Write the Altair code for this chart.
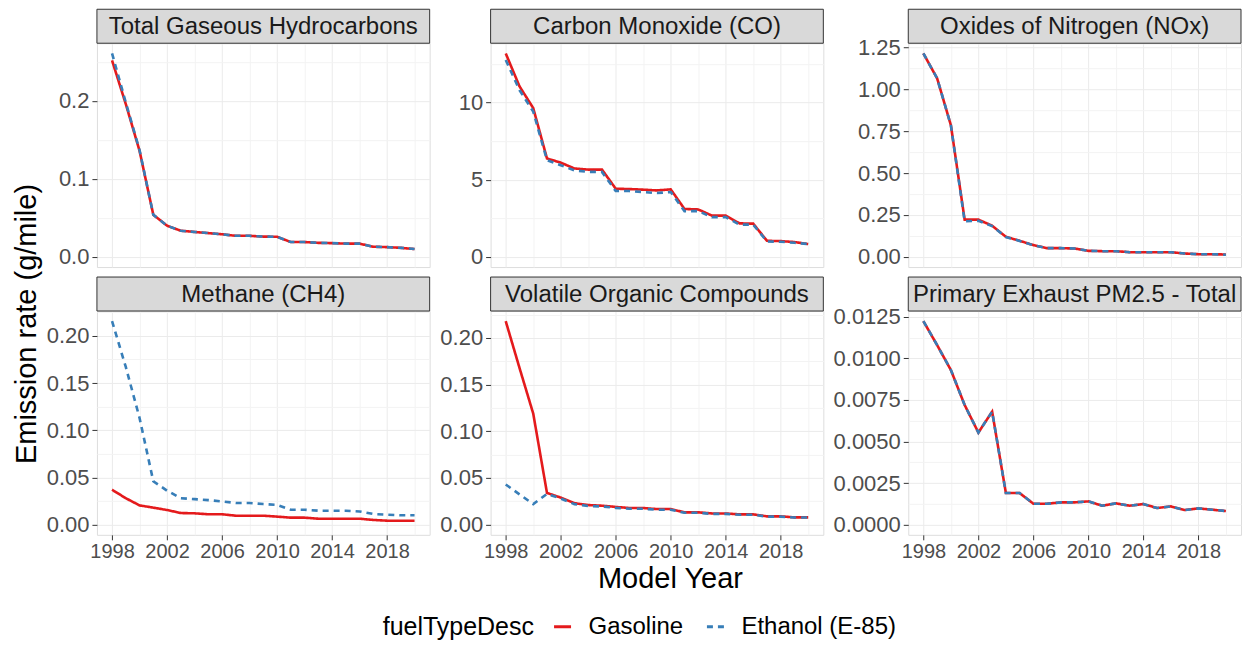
import altair as alt
import pandas as pd

years = [1998, 1999, 2000, 2001, 2002, 2003, 2004, 2005, 2006, 2007, 2008, 2009,
         2010, 2011, 2012, 2013, 2014, 2015, 2016, 2017, 2018, 2019, 2020]
fuels = ["Gasoline", "Ethanol (E-85)"]
pollutants = ["Total Gaseous Hydrocarbons", "Carbon Monoxide (CO)", "Oxides of Nitrogen (NOx)",
              "Methane (CH4)", "Volatile Organic Compounds", "Primary Exhaust PM2.5 - Total"]

thc_gas = [0.252, 0.196, 0.136, 0.054, 0.040, 0.0335, 0.032, 0.0305, 0.029, 0.027, 0.027, 0.026,
           0.0258, 0.019, 0.019, 0.018, 0.0176, 0.017, 0.017, 0.013, 0.0125, 0.0116, 0.010]
thc_eth = [0.261, 0.198, 0.137, 0.054, 0.040, 0.0335, 0.032, 0.0305, 0.029, 0.027, 0.027, 0.026,
           0.0258, 0.019, 0.019, 0.018, 0.0176, 0.017, 0.017, 0.013, 0.0125, 0.0116, 0.010]
co_gas = [13.17, 11.04, 9.63, 6.37, 6.10, 5.72, 5.65, 5.65, 4.41, 4.39, 4.35, 4.30,
          4.37, 3.10, 3.07, 2.67, 2.67, 2.17, 2.15, 1.04, 1.02, 0.96, 0.83]
co_eth = [12.74, 10.80, 9.40, 6.26, 5.93, 5.60, 5.50, 5.50, 4.26, 4.26, 4.20, 4.13,
          4.20, 2.96, 2.96, 2.57, 2.57, 2.09, 2.09, 1.00, 0.98, 0.91, 0.83]
nox_gas = [1.214, 1.065, 0.785, 0.222, 0.222, 0.186, 0.120, 0.096, 0.070, 0.052, 0.052, 0.050,
           0.036, 0.034, 0.034, 0.028, 0.028, 0.028, 0.028, 0.020, 0.016, 0.016, 0.014]
nox_eth = [1.214, 1.065, 0.785, 0.212, 0.215, 0.184, 0.118, 0.095, 0.069, 0.052, 0.052, 0.050,
           0.036, 0.034, 0.034, 0.028, 0.028, 0.028, 0.028, 0.020, 0.016, 0.016, 0.013]
ch4_gas = [0.037, 0.028, 0.0204, 0.018, 0.0155, 0.0123, 0.012, 0.011, 0.011, 0.0095, 0.0095, 0.0095,
           0.0085, 0.0074, 0.0074, 0.0063, 0.0063, 0.0063, 0.0063, 0.0050, 0.0042, 0.0042, 0.0042]
ch4_eth = [0.2155, 0.167, 0.113, 0.046, 0.036, 0.028, 0.027, 0.026, 0.0246, 0.023, 0.023, 0.0218,
           0.021, 0.0158, 0.0158, 0.0148, 0.0148, 0.0148, 0.014, 0.0113, 0.0106, 0.0099, 0.0099]
voc_gas = [0.218, 0.168, 0.119, 0.034, 0.029, 0.023, 0.021, 0.0203, 0.019, 0.0178, 0.0178, 0.0167,
           0.0167, 0.0132, 0.0132, 0.012, 0.012, 0.011, 0.011, 0.0089, 0.0089, 0.0078, 0.0078]
voc_eth = [0.043, 0.0325, 0.022, 0.033, 0.028, 0.022, 0.020, 0.0195, 0.018, 0.017, 0.017, 0.016,
           0.016, 0.0127, 0.0127, 0.0115, 0.0115, 0.0106, 0.0106, 0.0086, 0.0086, 0.0076, 0.0076]
pm_gas = [0.01224, 0.0108, 0.0093, 0.0072, 0.00554, 0.0068, 0.0019, 0.0019, 0.00126, 0.00126, 0.00134,
          0.00134, 0.0014, 0.00114, 0.00128, 0.00114, 0.00124, 0.0010, 0.0011, 0.00088, 0.00098, 0.0009, 0.00082]
pm_eth = [0.01224, 0.0108, 0.0093, 0.0072, 0.00554, 0.0068, 0.0019, 0.0019, 0.00126, 0.00126, 0.00134,
          0.00134, 0.0014, 0.00114, 0.00128, 0.00114, 0.00124, 0.0010, 0.0011, 0.00088, 0.00098, 0.0009, 0.00082]

gas_series = [thc_gas, co_gas, nox_gas, ch4_gas, voc_gas, pm_gas]
eth_series = [thc_eth, co_eth, nox_eth, ch4_eth, voc_eth, pm_eth]
y_steps = [0.1, 5, 0.25, 0.05, 0.05, 0.0025]
y_formats = [".1f", ".0f", ".2f", ".2f", ".2f", ".4f"]
x_ticks = [1998, 2000, 2002, 2004, 2006, 2008, 2010, 2012, 2014, 2016, 2018, 2020]

FONT = "Liberation Sans"
W, H, STRIP = 333, 224, 34

rows = []
for p, g, e in zip(pollutants, gas_series, eth_series):
    for yr, v in zip(years, g):
        rows.append({"pollutant": p, "year": yr, "fuel": fuels[0], "value": v})
    for yr, v in zip(years, e):
        rows.append({"pollutant": p, "year": yr, "fuel": fuels[1], "value": v})
df = pd.DataFrame(rows)

color_scale = alt.Scale(domain=fuels, range=["#E41A1C", "#377EB8"])
dash_scale = alt.Scale(domain=fuels, range=[[1, 0], [6, 5]])
legend = alt.Legend(
    title="fuelTypeDesc", orient="none", direction="horizontal", legendX=286, legendY=572,
    titleOrient="left", titleFontSize=25, titleFontWeight="normal", titleColor="#000000",
    titleFont=FONT, titlePadding=16, labelFontSize=24, labelFont=FONT, labelColor="#000000",
    labelOffset=14, columnPadding=17, symbolType="stroke", symbolSize=289, symbolStrokeWidth=3,
)

xmajor = "datum.value % 4 == 2"


def panel(i):
    p = pollutants[i]
    sub = df[df.pollutant == p]
    ymax = float(sub.value.max())
    lo, hi = -0.05 * ymax, 1.05 * ymax
    step = y_steps[i]
    half = step / 2
    yvals = [round(k * half, 10) for k in range(int(hi / half) + 1)]
    ymajor = f"abs(datum.value/{step} - round(datum.value/{step})) < 1e-6"
    bottom = i >= 3

    xaxis = alt.Axis(
        values=x_ticks, format="d", labels=bottom, ticks=bottom, domain=False,
        labelExpr=f"{xmajor} ? datum.label : ''",
        labelFont=FONT, labelFontSize=20, labelColor="#4D4D4D", labelPadding=2, tickSize=5,
        tickColor={"condition": {"test": xmajor, "value": "#333333"}, "value": "rgba(0,0,0,0)"},
        gridColor={"condition": {"test": xmajor, "value": "#EBEBEB"}, "value": "#F3F3F3"},
        title="Model Year" if i == 4 else None,
        titleX=W / 2 + 13, titleFontSize=29, titleFontWeight="normal", titleColor="#000000",
        titleFont=FONT, titlePadding=3,
    )
    yaxis = alt.Axis(
        values=yvals, format=y_formats[i], domain=False, title=None,
        labelExpr=f"{ymajor} ? datum.label : ''",
        labelFont=FONT, labelFontSize=22, labelColor="#4D4D4D", labelPadding=3, tickSize=5,
        tickColor={"condition": {"test": ymajor, "value": "#333333"}, "value": "rgba(0,0,0,0)"},
        gridColor={"condition": {"test": ymajor, "value": "#EBEBEB"}, "value": "#F3F3F3"},
    )
    enc = dict(
        x=alt.X("year:Q", scale=alt.Scale(domain=[1996.9, 2021.1], nice=False, zero=False), axis=xaxis),
        y=alt.Y("value:Q", scale=alt.Scale(domain=[lo, hi], nice=False, zero=False), axis=yaxis),
        color=alt.Color("fuel:N", scale=color_scale, legend=legend),
        strokeDash=alt.StrokeDash("fuel:N", scale=dash_scale, legend=legend),
    )
    gas = alt.Chart(sub[sub.fuel == fuels[0]]).mark_line(strokeWidth=2.6).encode(**enc)
    eth = alt.Chart(sub[sub.fuel == fuels[1]]).mark_line(strokeWidth=2.6).encode(**enc)
    lab = pd.DataFrame({"label": [p]})
    strip = alt.Chart(lab).mark_rect(fill="#D9D9D9", stroke="#333333", strokeWidth=1).encode(
        x=alt.value(0), x2=alt.value(W), y=alt.value(-STRIP), y2=alt.value(0))
    strip_text = alt.Chart(lab).mark_text(fontSize=24, font=FONT, color="#1A1A1A", baseline="middle").encode(
        x=alt.value(W / 2), y=alt.value(-STRIP / 2 + 1), text="label:N")
    return alt.layer(strip, gas, eth, strip_text).properties(width=W, height=H)


panels = [panel(i) for i in range(6)]

chart = alt.concat(*panels, columns=3, spacing={"row": 7, "column": 8}).resolve_scale(
    y="independent", x="independent"
).properties(
    title=alt.TitleParams("Emission rate (g/mile)", orient="left", anchor="middle", fontSize=29,
                          fontWeight="normal", color="#000000", font=FONT, offset=4),
    padding={"left": 4, "top": 0, "right": 0, "bottom": 0},
).configure_view(
    stroke="#333333", strokeWidth=1
).configure_axis(
    labelFont=FONT, labelFontSize=20, labelColor="#4D4D4D", tickSize=5, labelPadding=3,
    gridWidth=1,
).configure(font=FONT)

chart.save("out.html", embed_options={"renderer": "svg", "actions": False})
